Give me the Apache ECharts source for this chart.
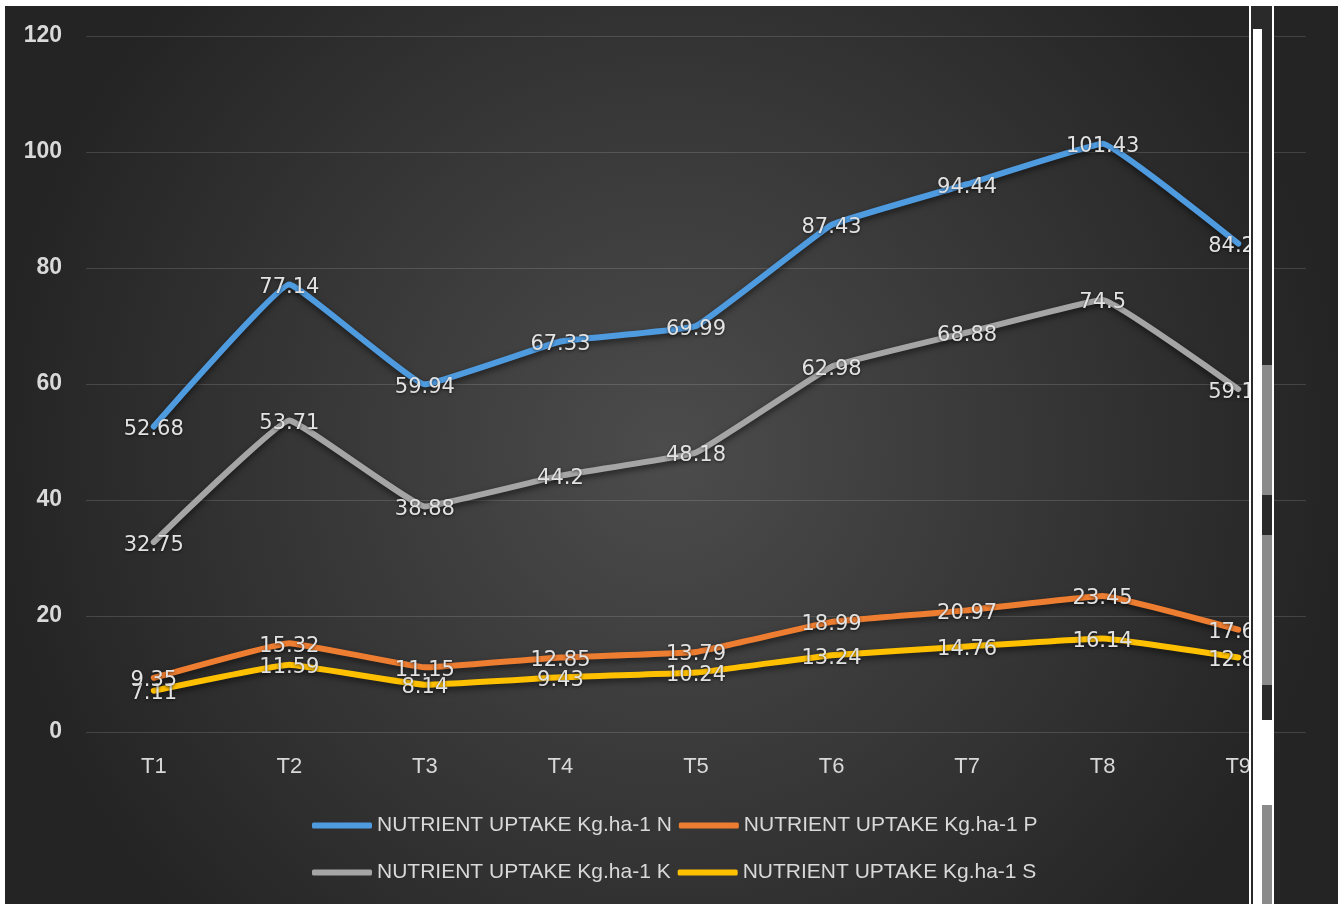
<!DOCTYPE html>
<html>
<head>
<meta charset="utf-8">
<script src="https://cdn.jsdelivr.net/npm/echarts@6/dist/echarts.min.js"></script>
<style>
html,body{margin:0;padding:0;background:#fff;}
#chart{width:1338px;height:904px;}
</style>
</head>
<body>
<div id="chart"></div>
<script>
const categories = ['T1','T2','T3','T4','T5','T6','T7','T8','T9'];
const seriesNames = ['NUTRIENT UPTAKE Kg.ha-1 N','NUTRIENT UPTAKE Kg.ha-1 P','NUTRIENT UPTAKE Kg.ha-1 K','NUTRIENT UPTAKE Kg.ha-1 S'];
const valuesN = [52.68, 77.14, 59.94, 67.33, 69.99, 87.43, 94.44, 101.43, 84.22];
const valuesP = [9.35, 15.32, 11.15, 12.85, 13.79, 18.99, 20.97, 23.45, 17.65];
const valuesK = [32.75, 53.71, 38.88, 44.2, 48.18, 62.98, 68.88, 74.5, 59.12];
const valuesS = [7.11, 11.59, 8.14, 9.43, 10.24, 13.24, 14.76, 16.14, 12.86];
const yTicks = [0, 20, 40, 60, 80, 100, 120];

const colors = ['#4f9be0', '#ed7d31', '#a5a5a5', '#ffc000'];
const seriesData = [valuesN, valuesP, valuesK, valuesS];

const chart = echarts.init(document.getElementById('chart'));

function makeSeries(i) {
  return {
    name: seriesNames[i],
    type: 'line',
    data: seriesData[i],
    smooth: 0.08,
    symbol: 'circle',
    symbolSize: 1,
    showSymbol: true,
    itemStyle: { color: colors[i] },
    lineStyle: {
      color: colors[i], width: 6, cap: 'round', join: 'round',
      shadowColor: 'rgba(0,0,0,0.55)', shadowBlur: 6, shadowOffsetY: 3
    },
    label: {
      show: true,
      position: 'inside',
      offset: [0, 3],
      color: '#e2e2e2',
      fontFamily: 'DejaVu Sans',
      fontSize: 21,
      textShadowColor: 'rgba(0,0,0,0.6)',
      textShadowBlur: 3,
      textShadowOffsetY: 1
    },
    emphasis: { disabled: true },
    z: 3 + (3 - i)
  };
}

const legendText = { color: '#d9d9d9', fontFamily: 'Liberation Sans', fontSize: 21 };

chart.setOption({
  animation: false,
  backgroundColor: {
    type: 'radial', x: 0.5, y: 0.5, r: 0.75,
    colorStops: [
      { offset: 0, color: '#4c4c4c' },
      { offset: 1, color: '#242424' }
    ]
  },
  grid: { left: 86, right: 32, top: 36, bottom: 172 },
  legend: [
    {
      data: [seriesNames[0], seriesNames[1]],
      left: 307, top: 810,
      icon: 'roundRect', itemWidth: 60, itemHeight: 6, itemGap: 7,
      textStyle: legendText
    },
    {
      data: [seriesNames[2], seriesNames[3]],
      left: 307, top: 857,
      icon: 'roundRect', itemWidth: 60, itemHeight: 6, itemGap: 7,
      textStyle: legendText
    }
  ],
  xAxis: {
    type: 'category',
    data: categories,
    boundaryGap: true,
    axisLine: { show: false },
    axisTick: { show: false },
    axisLabel: { color: '#d9d9d9', fontFamily: 'Liberation Sans', fontSize: 22, margin: 24 }
  },
  yAxis: {
    type: 'value',
    min: yTicks[0], max: yTicks[yTicks.length - 1], interval: 20,
    axisLine: { show: false },
    axisTick: { show: false },
    axisLabel: { color: '#d9d9d9', fontFamily: 'Liberation Sans', fontWeight: 'bold', fontSize: 23, margin: 24 },
    splitLine: { lineStyle: { color: 'rgba(255,255,255,0.14)', width: 1 } }
  },
  series: [0, 1, 2, 3].map(makeSeries),
  graphic: [
    { type: 'rect', z: 100, shape: { x: 0, y: 0, width: 1338, height: 6 }, style: { fill: '#ffffff' } },
    { type: 'rect', z: 100, shape: { x: 0, y: 0, width: 5, height: 904 }, style: { fill: '#ffffff' } },
    { type: 'rect', z: 100, shape: { x: 1249, y: 6, width: 2, height: 898 }, style: { fill: '#ffffff' } },
    { type: 'rect', z: 100, shape: { x: 1251, y: 6, width: 21, height: 898 }, style: { fill: '#2a2a2a' } },
    { type: 'rect', z: 101, shape: { x: 1253, y: 29, width: 9, height: 875 }, style: { fill: '#ffffff' } },
    { type: 'rect', z: 101, shape: { x: 1262, y: 365, width: 10, height: 130 }, style: { fill: '#8a8a8a' } },
    { type: 'rect', z: 101, shape: { x: 1262, y: 535, width: 10, height: 150 }, style: { fill: '#8a8a8a' } },
    { type: 'rect', z: 101, shape: { x: 1262, y: 720, width: 10, height: 85 }, style: { fill: '#ffffff' } },
    { type: 'rect', z: 101, shape: { x: 1262, y: 805, width: 10, height: 99 }, style: { fill: '#8a8a8a' } },
    { type: 'rect', z: 101, shape: { x: 1272, y: 6, width: 2, height: 898 }, style: { fill: '#ffffff' } }
  ]
});
</script>
</body>
</html>
